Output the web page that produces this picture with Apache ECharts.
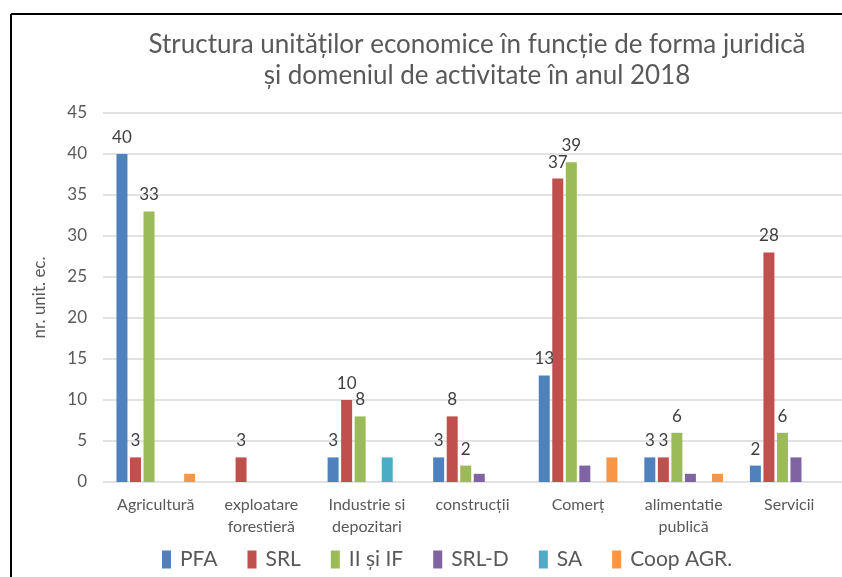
<!DOCTYPE html>
<html>
<head>
<meta charset="utf-8">
<script src="https://cdn.jsdelivr.net/npm/echarts@6/dist/echarts.min.js"></script>
<style>
  html, body { margin: 0; padding: 0; background: #ffffff; }
  #main { width: 842px; height: 577px; }
</style>
</head>
<body>
<div id="main"></div>
<script>
var categories = ['Agricultură', 'exploatare\nforestieră', 'Industrie si\ndepozitari', 'construcții', 'Comerț', 'alimentatie\npublică', 'Servicii'];
var yTicks = [0, 5, 10, 15, 20, 25, 30, 35, 40, 45];

var pfa = [40, 0, 3, 3, 13, 3, 2];
var srl = [3, 3, 10, 8, 37, 3, 28];
var iiIf = [33, 0, 8, 2, 39, 6, 6];
var srlD = [0, 0, 0, 1, 2, 1, 3];
var sa = [0, 0, 3, 0, 0, 0, 0];
var coop = [1, 0, 0, 0, 3, 1, 0];

var font = 'Lato, "Noto Sans", sans-serif';
var chart = echarts.init(document.getElementById('main'));

function bar(name, data, color, withLabel) {
  return {
    name: name,
    type: 'bar',
    data: data,
    barWidth: 11,
    barGap: '23%',
    itemStyle: { color: color },
    label: {
      show: withLabel,
      position: 'top',
      distance: 8,
      color: '#404040',
      fontSize: 17,
      fontFamily: font,
      formatter: function (p) { return p.value === 0 ? '' : p.value; }
    }
  };
}

var option = {
  backgroundColor: '#ffffff',
  animation: false,
  title: {
    text: 'Structura unităților economice în funcție de forma juridică\nși domeniul de activitate în anul 2018',
    left: 472,
    top: 24,
    textAlign: 'center',
    textStyle: {
      color: '#595959',
      fontSize: 26,
      fontWeight: 'normal',
      fontFamily: font,
      lineHeight: 31
    }
  },
  legend: {
    bottom: 2,
    left: 157,
    itemWidth: 9,
    itemHeight: 18,
    itemGap: 30,
    icon: 'rect',
    textStyle: { color: '#595959', fontSize: 21, fontFamily: font, padding: [0, 0, 0, 4] },
    data: ['PFA', 'SRL', 'II și IF', 'SRL-D', 'SA', 'Coop AGR.']
  },
  grid: { left: 103, right: -2, top: 113, height: 369 },
  xAxis: {
    type: 'category',
    data: categories,
    axisLine: { show: false },
    axisTick: { show: false },
    axisLabel: {
      color: '#595959',
      fontSize: 16,
      fontFamily: font,
      margin: 12,
      lineHeight: 22,
      interval: 0
    }
  },
  yAxis: {
    type: 'value',
    min: 0,
    max: yTicks[yTicks.length - 1],
    interval: 5,
    name: 'nr. unit. ec.',
    nameLocation: 'middle',
    nameGap: 55,
    nameTextStyle: { color: '#595959', fontSize: 17, fontFamily: font },
    axisLabel: { color: '#595959', fontSize: 17, fontFamily: font, margin: 16 },
    splitLine: { lineStyle: { color: '#d9d9d9', width: 1.5 } }
  },
  graphic: [
    { type: 'line', shape: { x1: 11, y1: 14, x2: 842, y2: 14 }, style: { stroke: '#000', lineWidth: 2 } },
    { type: 'line', shape: { x1: 11, y1: 14, x2: 11, y2: 577 }, style: { stroke: '#000', lineWidth: 2 } }
  ],
  series: [
    bar('PFA', pfa, '#4f81bd', true),
    bar('SRL', srl, '#c0504d', true),
    bar('II și IF', iiIf, '#9bbb59', true),
    bar('SRL-D', srlD, '#8064a2', false),
    bar('SA', sa, '#4bacc6', false),
    bar('Coop AGR.', coop, '#f79646', false)
  ]
};

chart.setOption(option);
</script>
</body>
</html>
